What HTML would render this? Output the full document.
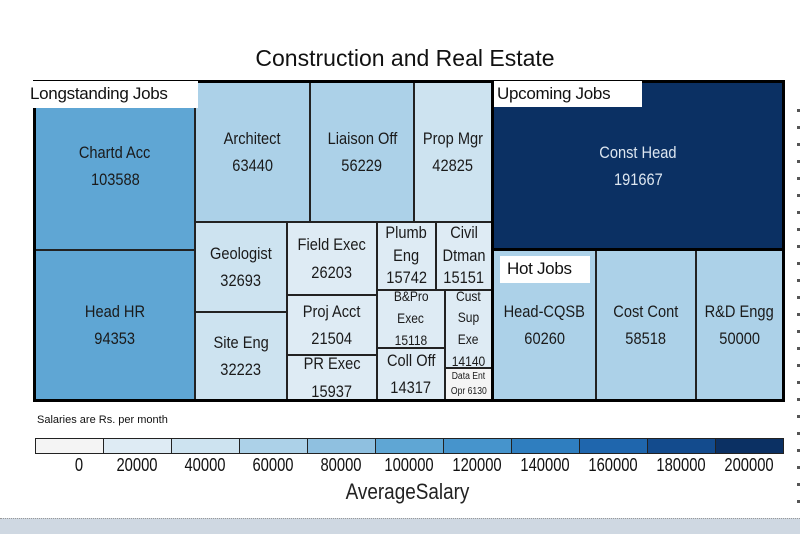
<!DOCTYPE html>
<html><head><meta charset="utf-8">
<style>
body{margin:0;width:800px;height:533px;overflow:hidden;background:#fff;font-family:"Liberation Sans",sans-serif;position:relative}
.c{position:absolute;box-sizing:border-box;border:1px solid #222;display:flex;flex-direction:column;align-items:center;justify-content:center;text-align:center;color:#1a1a1a;line-height:1.6;white-space:nowrap;overflow:hidden}
.c span{display:inline-block;transform:scaleX(0.86)}
.lbl{position:absolute;background:#fff;font-family:"Liberation Sans",sans-serif;font-size:17px;color:#111;padding-left:3px;box-sizing:border-box;line-height:26px;letter-spacing:-0.3px}
.lg{position:absolute;top:438px;height:16px;box-sizing:border-box;border:1px solid #222}
.tk{position:absolute;top:455px;font-size:18px;width:68px;text-align:center;color:#111;transform:scaleX(0.82)}
</style></head><body>
<div style="position:absolute;left:0;width:810px;top:45px;text-align:center;font-size:23px;color:#111">Construction and Real Estate</div>
<div id="tm"></div>
<div style="position:absolute;left:33px;top:80px;width:461px;height:322px;border:3px solid #000;box-sizing:border-box"></div>
<div style="position:absolute;left:491px;top:80px;width:294px;height:322px;border:3px solid #000;box-sizing:border-box"></div>
<div style="position:absolute;left:491px;top:248px;width:294px;height:154px;border:3px solid #000;box-sizing:border-box"></div>
<div class="lbl" style="left:27px;top:81px;width:171px;height:27px">Longstanding Jobs</div>
<div class="lbl" style="left:494px;top:81px;width:148px;height:26px">Upcoming Jobs</div>
<div class="lbl" style="left:500px;top:256px;width:90px;height:27px;padding-left:7px">Hot Jobs</div>
<div style="position:absolute;left:37px;top:414px;font-size:11px;color:#111">Salaries are Rs. per month</div>
<div id="leg"></div>
<div style="position:absolute;left:0;width:815px;top:479px;text-align:center;font-size:22px;color:#222;transform:scaleX(0.86)">AverageSalary</div>
<div style="position:absolute;left:797px;top:95px;width:3px;height:420px;background:repeating-linear-gradient(#fff 0 14px,#555 14px 17px)"></div>
<div style="position:absolute;left:0;top:518px;width:800px;height:15px;background:#cfd8e2;border-top:1px dotted #999"></div>
<script>
const names=["Chartd Acc","Head HR","Architect","Liaison Off","Prop Mgr","Geologist","Site Eng","Field Exec","Proj Acct","PR Exec","Plumb Eng","Civil Dtman","B&Pro Exec","Coll Off","Cust Sup Exe","Data Ent Opr","Const Head","Head-CQSB","Cost Cont","R&D Engg"];
const salaries=[103588,94353,63440,56229,42825,32693,32223,26203,21504,15937,15742,15151,15118,14317,14140,6130,191667,60260,58518,50000];
const legendTicks=[0,20000,40000,60000,80000,100000,120000,140000,160000,180000,200000];
const legendColors=["#f4f4f4","#deebf4","#cde3f0","#acd1e8","#8fc0e0","#5fa6d4","#4694cc","#2f7ebf","#1f66ad","#134b8d","#0b3063"];
// layout rectangles [x0,y0,x1,y1,fontSize,splitWords]
const layout=[[35,82,195,250,17,0],[35,250,195,400,17,0],[195,82,310,222,17,0],[310,82,414,222,17,0],[414,82,492,222,17,0],[195,222,287,312,17,0],[195,312,287,400,17,0],[287,222,377,295,17,0],[287,295,377,355,17,0],[287,355,377,400,17,0],[377,222,436,290,17,1],[436,222,492,290,17,1],[377,290,445,348,14,1],[377,348,445,400,17,0],[445,290,492,368,14,1],[445,368,492,400,10,2],[493,82,783,250,17,0],[493,250,596,400,17,0],[596,250,696,400,17,0],[696,250,783,400,17,0]];
function color(v){let i=Math.round(v/20000);i=Math.max(0,Math.min(10,i));return legendColors[i];}
const tm=document.getElementById('tm');
names.forEach((n,i)=>{const r=layout[i];const d=document.createElement('div');d.className='c';


d.style.left=r[0]+'px';d.style.top=r[1]+'px';d.style.width=(r[2]-r[0])+'px';d.style.height=(r[3]-r[1])+'px';d.style.fontSize=r[4]+'px';
d.style.background=color(salaries[i]);if(salaries[i]>150000)d.style.color='#dde6f0';
let lines;
if(r[5]==1){lines=n.split(' ').concat([String(salaries[i])]);d.style.lineHeight=(r[4]>15?'1.35':'1.55');}
else if(r[5]==2){lines=["Data Ent","Opr "+salaries[i]];d.style.lineHeight='1.55';}
else lines=[n,String(salaries[i])];
d.innerHTML=lines.map(s=>'<span>'+s.replace('&','&amp;')+'</span>').join('');tm.appendChild(d);});
const leg=document.getElementById('leg');const bw=748/11;
legendTicks.forEach((t,i)=>{const b=document.createElement('div');b.className='lg';


b.style.left=(35+i*bw)+'px';b.style.width=(bw+1)+'px';b.style.background=legendColors[i];leg.appendChild(b);
const l=document.createElement('div');l.className='tk';


l.style.left=(35+i*bw+(i==0?10:0))+'px';l.textContent=t;leg.appendChild(l);});
</script>
</body></html>
